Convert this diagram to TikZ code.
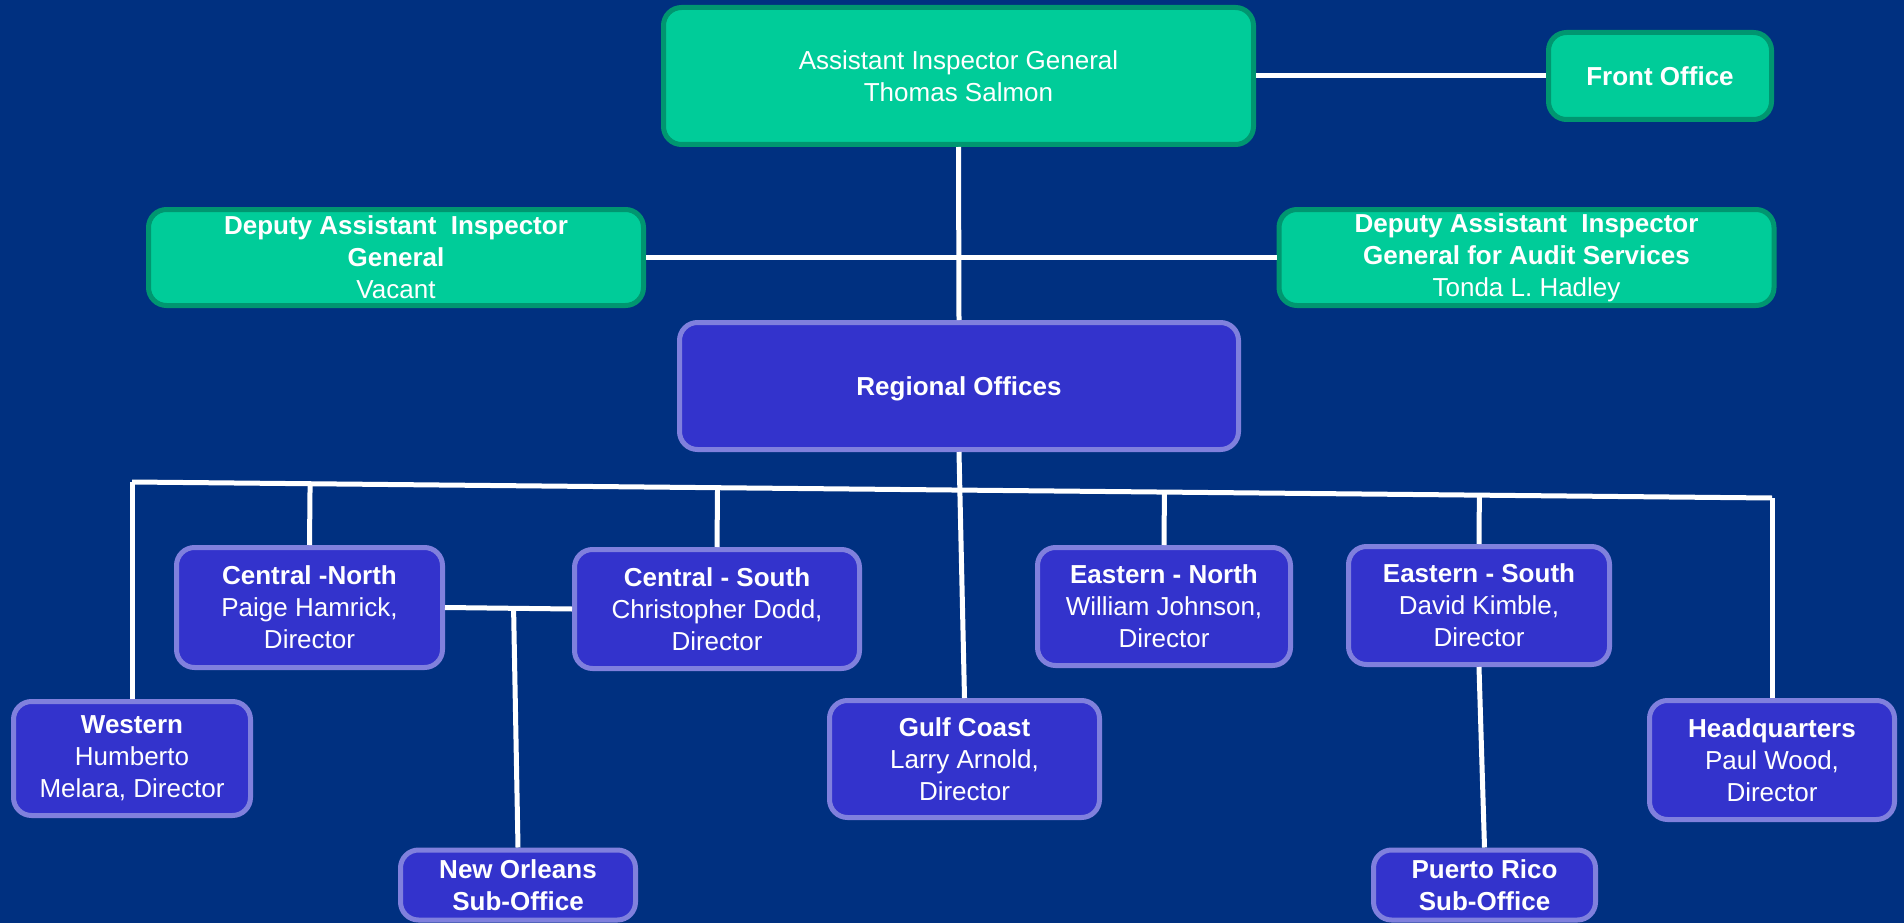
\documentclass[tikz,border=0pt]{standalone}
\usepackage{fontspec}
\setmainfont{Liberation Sans}
\usetikzlibrary{calc}
\definecolor{navybg}{RGB}{0,48,128}
\definecolor{aigfill}{RGB}{0,204,153}
\definecolor{aigedge}{RGB}{0,150,112}
\definecolor{rofill}{RGB}{51,51,204}
\definecolor{roedge}{RGB}{128,128,221}
\begin{document}
\begin{tikzpicture}[x=1pt,y=-1pt,
    box/.style={draw,line width=5pt,rounded corners=18pt,align=center,text=white,inner sep=0pt,font=\fontsize{26}{32}\selectfont},
    greenbox/.style={box,fill=aigfill,draw=aigedge},
    bluebox/.style={box,fill=rofill,draw=roedge},
    link/.style={white,line width=5pt}]
                \fill[navybg] (0,0) rectangle (1904,923);
                \useasboundingbox (0,0) rectangle (1904,923);
                \node[greenbox,minimum width=590pt,minimum height=137pt] (aig) at (958.5,76) {Assistant Inspector General\\Thomas Salmon};
                \node[greenbox,minimum width=223pt,minimum height=87pt] (front) at (1660,76) {\textbf{Front Office}};
                \node[greenbox,minimum width=495pt,minimum height=96pt] (daigl) at (396,257.5) {\textbf{Deputy Assistant\ \ Inspector}\\\textbf{General}\\Vacant};
                \node[greenbox,minimum width=495pt,minimum height=96pt] (daigr) at (1526.5,257.5) {\textbf{Deputy Assistant\ \ Inspector}\\\textbf{General for Audit Services}\\Tonda L. Hadley};
                \node[bluebox,minimum width=559pt,minimum height=127pt,text depth=0pt] (ro) at (959,386) {\textbf{Regional Offices}};
                \node[bluebox,minimum width=266pt,minimum height=120pt] (cn) at (309.5,607.5) {\textbf{Central -North}\\Paige Hamrick,\\Director};
                \node[bluebox,minimum width=285pt,minimum height=119pt] (cs) at (717,609) {\textbf{Central - South}\\Christopher Dodd,\\Director};
                \node[bluebox,minimum width=253pt,minimum height=118pt] (en) at (1164,606.5) {\textbf{Eastern - North}\\William Johnson,\\Director};
                \node[bluebox,minimum width=261pt,minimum height=118pt] (es) at (1479,605.5) {\textbf{Eastern - South}\\David Kimble,\\Director};
                \node[bluebox,minimum width=237pt,minimum height=114pt] (west) at (132,758.5) {\textbf{Western}\\Humberto\\Melara, Director};
                \node[bluebox,minimum width=270pt,minimum height=117pt] (gulf) at (964.5,759) {\textbf{Gulf Coast}\\Larry Arnold,\\Director};
                \node[bluebox,minimum width=245pt,minimum height=119pt] (hq) at (1772,760) {\textbf{Headquarters}\\Paul Wood,\\Director};
                \node[bluebox,minimum width=235pt,minimum height=70pt] (neworl) at (518,885) {\textbf{New Orleans}\\\textbf{Sub-Office}};
                \node[bluebox,minimum width=222pt,minimum height=70pt] (prico) at (1484.5,885) {\textbf{Puerto Rico}\\\textbf{Sub-Office}};
                \coordinate (busw) at (132,482);
                \coordinate (buse) at (1772,498);
                \coordinate (cjoin) at ($(cn.east)!0.54!(cs.west)$);
                \draw[link] (aig.east) -- (front.west);
                \draw[link] (aig.south) -- (ro.north);
                \draw[link] (daigl.east) -- (daigr.west);
                \draw[link] (busw) -- (buse);
                \draw[link] (ro.south) -- (gulf.north);
                \draw[link] (busw) -- (west.north);
                \draw[link] (buse) -- (hq.north);
                \draw[link] (cn.north) -- ($(busw)!(cn.north)!(buse)$);
                \draw[link] (cs.north) -- ($(busw)!(cs.north)!(buse)$);
                \draw[link] (en.north) -- ($(busw)!(en.north)!(buse)$);
                \draw[link] (es.north) -- ($(busw)!(es.north)!(buse)$);
                \draw[link] (cn.east) -- (cs.west);
                \draw[link] (cjoin) -- (neworl.north);
                \draw[link] (es.south) -- (prico.north);
            \end{tikzpicture}
\end{document}
